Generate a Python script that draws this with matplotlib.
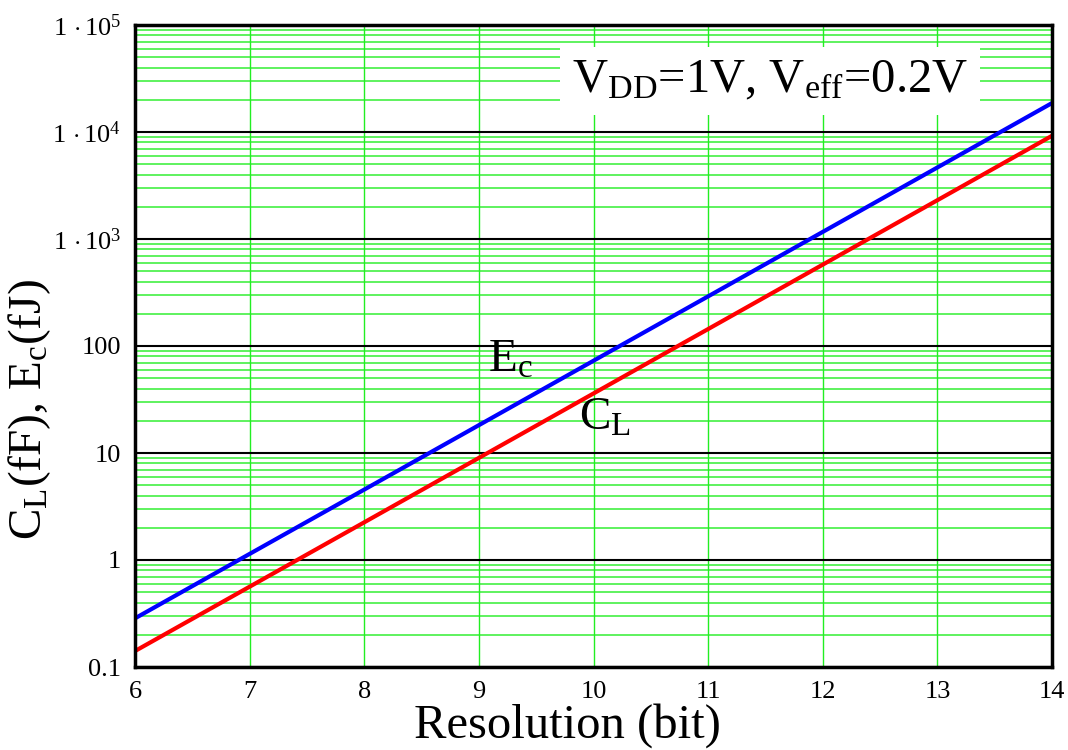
import matplotlib
matplotlib.use("Agg")
import matplotlib.pyplot as plt
from matplotlib.ticker import FixedLocator, LogLocator, NullFormatter

plt.rcParams['font.family'] = ['Liberation Serif', 'DejaVu Serif']
plt.rcParams['mathtext.fontset'] = 'custom'
plt.rcParams['mathtext.rm'] = 'Liberation Serif'
plt.rcParams['mathtext.it'] = 'Liberation Serif:italic'

# Resolution in bits and the corresponding load capacitance / energy
bits = [6, 7, 8, 9, 10, 11, 12, 13, 14]
cap_fF = [0.141, 0.563, 2.25, 9.0, 36.0, 144.0, 576.0, 2304.0, 9216.0]
energy_fJ = [0.285, 1.14, 4.55, 18.2, 72.8, 291.0, 1165.0, 4660.0, 18640.0]

y_ticks = [0.1, 1, 10, 100, 1e3, 1e4, 1e5]
y_tick_labels = ['0.1', '1', '10', '100',
                 r'$1\,\cdot 10^{3}$', r'$1\,\cdot 10^{4}$', r'$1\,\cdot 10^{5}$']
x_ticks = [6, 7, 8, 9, 10, 11, 12, 13, 14]

fig = plt.figure(figsize=(10.68, 7.5), dpi=100)
ax = fig.add_axes([135 / 1068, 1 - 667 / 750, (1052 - 135) / 1068, (667 - 25) / 750])

ax.set_yscale('log')
ax.set_xlim(6, 14)
ax.set_ylim(0.1, 1e5)

# grid: green minor lines, black decade lines, green verticals
ax.yaxis.set_minor_locator(LogLocator(base=10, subs=range(2, 10)))
ax.yaxis.set_minor_formatter(NullFormatter())
ax.grid(True, which='minor', axis='y', color='#22ee22', lw=1.2, alpha=0.85)
ax.grid(True, which='major', axis='y', color='black', lw=1.5)
ax.grid(True, which='major', axis='x', color='#22ee22', lw=1.0)
ax.set_axisbelow(True)

ax.plot(bits, energy_fJ, color='#0000ff', lw=3, solid_capstyle='butt', zorder=3)
ax.plot(bits, cap_fF, color='#ff0000', lw=3, solid_capstyle='butt', zorder=3)

ax.yaxis.set_major_locator(FixedLocator(y_ticks))
ax.set_yticklabels(y_tick_labels)
ax.set_xticks(x_ticks)
ax.tick_params(axis='both', which='both', length=0, labelsize=19)
ax.tick_params(axis='x', pad=10)
ax.tick_params(axis='y', pad=10)

for s in ax.spines.values():
    s.set_linewidth(2.5)
    s.set_zorder(4)

ax.text(9.08, 58, r'$\mathrm{E_c}$', fontsize=34, zorder=5)
ax.text(9.87, 16.4, r'$\mathrm{C_L}$', fontsize=34, zorder=5)

ax.text(11.54, 3.0e4, r'$\mathrm{V_{DD}}$=1V, $\mathrm{V_{eff}}$=0.2V',
        fontsize=35, ha='center', va='center', zorder=5,
        bbox=dict(boxstyle='square,pad=0.25', fc='white', ec='none'))

ax.set_xlabel('Resolution (bit)', fontsize=35, labelpad=0)
ax.xaxis.set_label_coords((567 - 135) / 917, -0.057)
ax.xaxis.label.set_va('top')

fig.text(30 / 1068, 1 - 410 / 750, r'$\mathrm{C_L}$(fF), $\mathrm{E_c}$(fJ)',
         fontsize=34, rotation=90, ha='center', va='center')

fig.savefig('out.png', dpi=100)
